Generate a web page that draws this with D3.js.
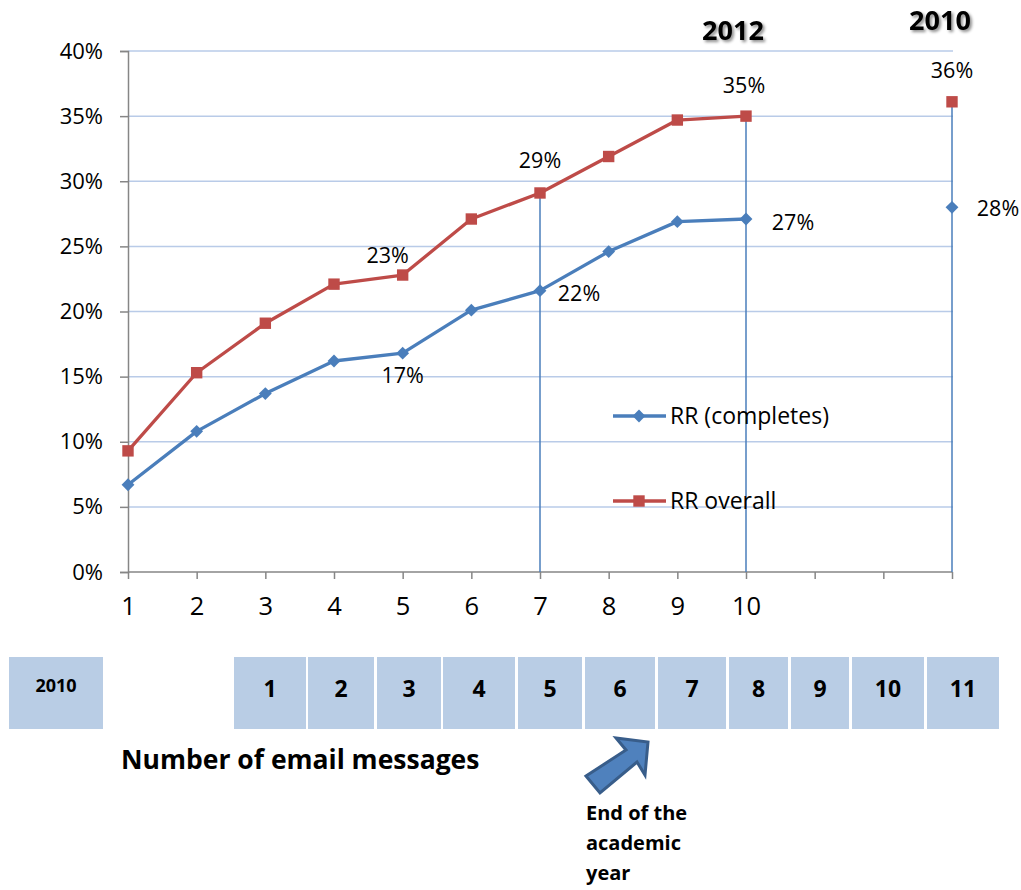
<!DOCTYPE html>
<html lang="en">
<head>
<meta charset="utf-8">
<title>Response rate by number of email messages</title>
<script src="https://cdn.jsdelivr.net/npm/d3@7"></script>
<style>
  body { margin: 0; background: #fff; }
  svg text { font-family: 'Open Sans', 'Lato', sans-serif; }
</style>
</head>
<body>
<div id="chart"></div>
<script>

/* Data */
var messages = [1, 2, 3, 4, 5, 6, 7, 8, 9, 10];
var rrCompletes = [6.7, 10.8, 13.7, 16.2, 16.8, 20.1, 21.6, 24.6, 26.9, 27.1];
var rrOverall = [9.3, 15.3, 19.1, 22.1, 22.8, 27.1, 29.1, 31.9, 34.7, 35.0];
// 2010 survey, plotted at the far end of the axis
var pos2010 = 13;
var completes2010 = 28.0;
var overall2010 = 36.1;
var yTicks = [0, 5, 10, 15, 20, 25, 30, 35, 40];
var xTicks = [1, 2, 3, 4, 5, 6, 7, 8, 9, 10, 11, 12, 13];
var xTickLabels = ['1', '2', '3', '4', '5', '6', '7', '8', '9', '10', '', '', ''];
var tableLabels = ['1', '2', '3', '4', '5', '6', '7', '8', '9', '10', '11'];

// point labels: [series, index, text]
var pointLabels = [
  ['c', 4, '17%'], ['o', 4, '23%'], ['c', 6, '22%'], ['o', 6, '29%'],
  ['c', 9, '27%'], ['o', 9, '35%']
];

var width = 1021, height = 890;
var blue = '#4a7ebb', red = '#be4b48';

var svg = d3.select('#chart').append('svg')
    .attr('width', width)
    .attr('height', height);

var defs = svg.append('defs');
var shadow = defs.append('filter').attr('id', 'shadow')
    .attr('x', '-20%').attr('y', '-30%').attr('width', '150%').attr('height', '170%');
shadow.append('feDropShadow')
    .attr('dx', 2).attr('dy', 2).attr('stdDeviation', 1.5)
    .attr('flood-color', '#000').attr('flood-opacity', 0.45);

/* Scales */
var x = d3.scaleLinear().domain([1, 13]).range([128, 952]);
var y = d3.scaleLinear().domain([0, 40]).range([572, 51]);

/* Gridlines */
svg.append('g')
  .selectAll('line')
  .data(yTicks.filter(function(d) { return d > 0; }))
  .join('line')
    .attr('x1', x(1)).attr('x2', x(13) + 1)
    .attr('y1', function(d) { return y(d); })
    .attr('y2', function(d) { return y(d); })
    .attr('stroke', '#b9cbe8')
    .attr('stroke-width', 1.5);

/* Y axis */
var yAxis = svg.append('g')
    .attr('transform', 'translate(' + x(1) + ',0)')
    .call(d3.axisLeft(y).tickValues(yTicks).tickSize(8).tickPadding(17)
      .tickFormat(function(d) { return d + '%'; }));
yAxis.select('.domain').attr('stroke', '#868686').attr('stroke-width', 1.5);
yAxis.selectAll('.tick line').attr('stroke', '#868686').attr('stroke-width', 1.5);
yAxis.selectAll('.tick text').attr('font-size', 22).attr('fill', '#000');

/* X axis */
var xAxis = svg.append('g')
    .attr('transform', 'translate(0,' + y(0) + ')')
    .call(d3.axisBottom(x).tickValues(xTicks).tickSize(7).tickPadding(27)
      .tickFormat(function(d, i) { return xTickLabels[i]; }));
xAxis.select('.domain').attr('stroke', '#868686').attr('stroke-width', 1.5)
    .attr('d', 'M' + x(1) + ',0H' + x(13));
xAxis.selectAll('.tick line').attr('stroke', '#868686').attr('stroke-width', 1.5);
xAxis.selectAll('.tick text').attr('font-size', 25.5).attr('fill', '#000')
    .attr('dy', '0.35em');

/* Drop lines */
var drops = [
  { x: 7, top: rrOverall[6] },
  { x: 10, top: rrOverall[9] },
  { x: pos2010, top: overall2010 }
];
svg.append('g')
  .selectAll('line')
  .data(drops)
  .join('line')
    .attr('x1', function(d) { return x(d.x); })
    .attr('x2', function(d) { return x(d.x); })
    .attr('y1', function(d) { return y(d.top); })
    .attr('y2', y(0))
    .attr('stroke', blue)
    .attr('stroke-width', 1.5);

/* Lines */
var line = d3.line()
    .x(function(d, i) { return x(messages[i]); })
    .y(function(d) { return y(d); });

svg.append('path').datum(rrOverall)
    .attr('d', line).attr('fill', 'none')
    .attr('stroke', red).attr('stroke-width', 3.3).attr('stroke-linejoin', 'round');
svg.append('path').datum(rrCompletes)
    .attr('d', line).attr('fill', 'none')
    .attr('stroke', blue).attr('stroke-width', 3.3).attr('stroke-linejoin', 'round');

/* Markers */
var diamond = d3.symbol().type(d3.symbolDiamond2).size(105);
var square = d3.symbol().type(d3.symbolSquare).size(130);

var ovPts = rrOverall.map(function(v, i) { return [messages[i], v]; }).concat([[pos2010, overall2010]]);
var cpPts = rrCompletes.map(function(v, i) { return [messages[i], v]; }).concat([[pos2010, completes2010]]);

svg.append('g').selectAll('path')
  .data(ovPts)
  .join('path')
    .attr('d', square)
    .attr('transform', function(d) { return 'translate(' + x(d[0]) + ',' + y(d[1]) + ')'; })
    .attr('fill', red);

svg.append('g').selectAll('path')
  .data(cpPts)
  .join('path')
    .attr('d', diamond)
    .attr('transform', function(d) { return 'translate(' + x(d[0]) + ',' + y(d[1]) + ')'; })
    .attr('fill', blue);

/* Point labels */
var labelOffsets = {
  'c4': [0, 22], 'o4': [-15, -20], 'c6': [39, 3], 'o6': [0, -32],
  'c9': [47, 3], 'o9': [-2, -31]
};
svg.append('g').selectAll('text')
  .data(pointLabels)
  .join('text')
    .attr('x', function(d) {
      return x(messages[d[1]]) + labelOffsets[d[0] + d[1]][0];
    })
    .attr('y', function(d) {
      var v = d[0] === 'c' ? rrCompletes : rrOverall;
      return y(v[d[1]]) + labelOffsets[d[0] + d[1]][1];
    })
    .attr('text-anchor', 'middle')
    .attr('dy', '0.35em')
    .attr('font-size', 21.5)
    .text(function(d) { return d[2]; });

svg.append('text')
    .attr('x', x(pos2010)).attr('y', y(overall2010) - 31)
    .attr('text-anchor', 'middle').attr('dy', '0.35em')
    .attr('font-size', 21.5).text('36%');
svg.append('text')
    .attr('x', x(pos2010) + 46).attr('y', y(completes2010) + 1)
    .attr('text-anchor', 'middle').attr('dy', '0.35em')
    .attr('font-size', 21.5).text('28%');

/* Year headers */
svg.append('text')
    .attr('x', 733).attr('y', 40)
    .attr('text-anchor', 'middle')
    .attr('font-size', 27).attr('font-weight', 'bold')
    .attr('filter', 'url(#shadow)')
    .text('2012');
svg.append('text')
    .attr('x', 940).attr('y', 30)
    .attr('text-anchor', 'middle')
    .attr('font-size', 27).attr('font-weight', 'bold')
    .attr('filter', 'url(#shadow)')
    .text('2010');

/* Legend */
var legend = svg.append('g').attr('transform', 'translate(613,0)');
var legendItems = [
  { name: 'RR (completes)', color: blue, y: 416, sym: diamond },
  { name: 'RR overall', color: red, y: 501, sym: square }
];
var li = legend.selectAll('g').data(legendItems).join('g')
    .attr('transform', function(d) { return 'translate(0,' + d.y + ')'; });
li.append('line')
    .attr('x1', 0).attr('x2', 53)
    .attr('stroke', function(d) { return d.color; })
    .attr('stroke-width', 3.3);
li.append('path')
    .attr('d', function(d) { return d.sym(); })
    .attr('transform', 'translate(26,0)')
    .attr('fill', function(d) { return d.color; });
li.append('text')
    .attr('x', 57).attr('dy', '0.35em')
    .attr('font-size', 23)
    .text(function(d) { return d.name; });

/* 2010 message-number row */
var cells = [
  [234, 306], [308, 374], [377, 441], [443, 515], [518, 582], [585, 655],
  [658, 726], [729, 788], [791, 849], [852, 924], [927, 999]
];
var rowTop = 657, rowH = 72;

svg.append('rect')
    .attr('x', 9).attr('y', rowTop).attr('width', 94).attr('height', rowH)
    .attr('fill', '#b9cde5');
svg.append('text')
    .attr('x', 56).attr('y', 692)
    .attr('text-anchor', 'middle')
    .attr('font-size', 18).attr('font-weight', 'bold')
    .text('2010');

var cellG = svg.append('g').selectAll('g')
  .data(tableLabels)
  .join('g');
cellG.append('rect')
    .attr('x', function(d, i) { return cells[i][0]; })
    .attr('y', rowTop)
    .attr('width', function(d, i) { return cells[i][1] - cells[i][0]; })
    .attr('height', rowH)
    .attr('fill', '#b9cde5');
cellG.append('text')
    .attr('x', function(d, i) { return (cells[i][0] + cells[i][1]) / 2; })
    .attr('y', 697)
    .attr('text-anchor', 'middle')
    .attr('font-size', 23).attr('font-weight', 'bold')
    .text(function(d) { return d; });

/* Axis title */
svg.append('text')
    .attr('x', 121).attr('y', 769)
    .attr('font-size', 26.5).attr('font-weight', 'bold')
    .text('Number of email messages');

/* Arrow */
svg.append('path')
    .attr('d', 'M586,776L626,750L616,738L648,742L645,775L637,762L600,793Z')
    .attr('fill', '#4f81bd')
    .attr('stroke', '#385d8a')
    .attr('stroke-width', 3)
    .attr('stroke-linejoin', 'miter');

/* Annotation */
var note = svg.append('text')
    .attr('x', 586).attr('y', 820)
    .attr('font-size', 20).attr('font-weight', 'bold');
['End of the', 'academic', 'year'].forEach(function(t, i) {
  note.append('tspan').attr('x', 586).attr('dy', i === 0 ? 0 : 30).text(t);
});

</script>
</body>
</html>
